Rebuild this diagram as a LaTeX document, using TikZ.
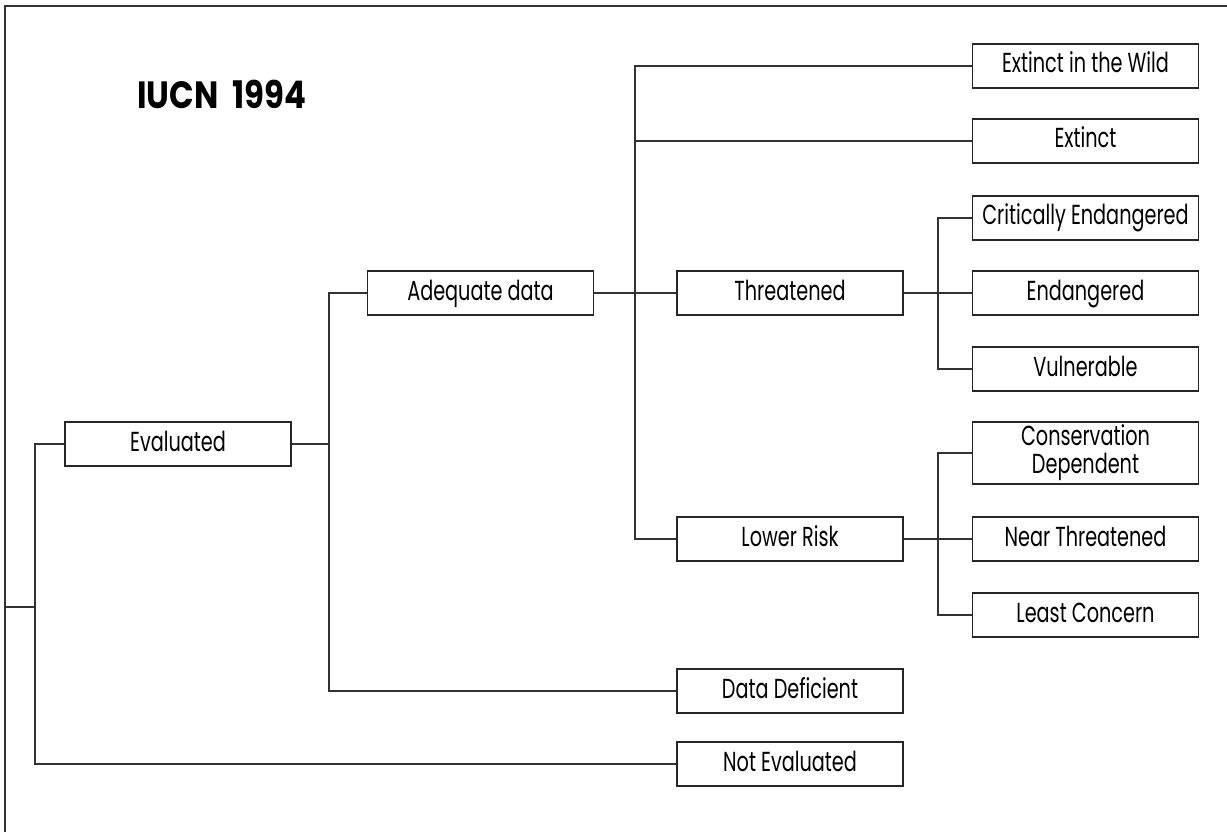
\documentclass[tikz,border=0pt]{standalone}
\usepackage{fontspec}
\newfontfamily\boxfont{Poppins}[FakeStretch=0.7]
\newfontfamily\titlefont{Poppins}[FakeStretch=0.85]
\begin{document}
\begin{tikzpicture}[x=1pt,y=-1pt,
  box/.style={draw=black!85, line width=1.3pt, minimum width=226pt, minimum height=44pt,
    inner sep=0pt, align=center, text height=17pt, text depth=3pt,
    font=\boxfont\fontsize{27.5}{30}\selectfont},
  link/.style={draw=black!80, line width=1.3pt}]
\useasboundingbox (0,0) rectangle (1227,832);
% frame
\draw[link] (5,832) -- (5,6) -- (1227,6);
% title
\node[font=\titlefont\bfseries\fontsize{38}{40}\selectfont, anchor=west, inner sep=0pt] (title) at (137,94.5) {IUCN\hspace{14pt}1994};
% nodes
\node[box] (eval) at (178,444) {Evaluated};
\node[box] (adeq) at (480.5,293) {Adequate data};
\node[box] (thr) at (790,293) {Threatened};
\node[box] (lr) at (790,539) {Lower Risk};
\node[box] (dd) at (790,691) {Data Deficient};
\node[box] (ne) at (790,764) {Not Evaluated};
\node[box] (ew) at (1085.5,66) {Extinct in the Wild};
\node[box] (ex) at (1085.5,141) {Extinct};
\node[box] (ce) at (1085.5,218) {Critically Endangered};
\node[box] (en) at (1085.5,293) {Endangered};
\node[box] (vu) at (1085.5,369) {Vulnerable};
\node[box, minimum height=62pt, text height=, text depth=] (cd) at (1085.5,453) {Conservation\\[-2pt]Dependent};
\node[box] (nt) at (1085.5,539) {Near Threatened};
\node[box] (lc) at (1085.5,615) {Least Concern};
% junctions
\coordinate (root) at (5,607);
\coordinate (j0) at (35,607);
\coordinate (j1) at (329,444);
\coordinate (j2) at (635,293);
\coordinate (j3) at (938,293);
\coordinate (j4) at (938,539);
% connectors
\draw[link] (root) -- (j0);
\draw[link] (eval.west) -| (j0) |- (ne.west);
\draw[link] (eval.east) -- (j1);
\draw[link] (adeq.west) -| (j1) |- (dd.west);
\draw[link] (adeq.east) -- (thr.west);
\draw[link] (ew.west) -| (j2) |- (lr.west);
\draw[link] (ex.west) -| (j2);
\draw[link] (thr.east) -- (en.west);
\draw[link] (ce.west) -| (j3) |- (vu.west);
\draw[link] (lr.east) -- (nt.west);
\draw[link] (cd.west) -| (j4) |- (lc.west);
\end{tikzpicture}
\end{document}
